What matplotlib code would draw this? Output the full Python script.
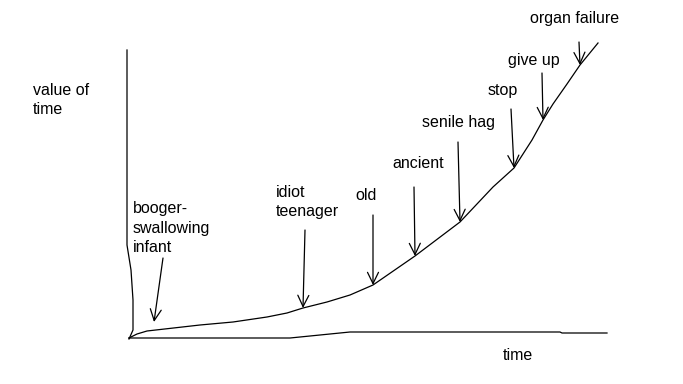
import matplotlib.pyplot as plt

plt.rcParams['font.family'] = ['Liberation Sans', 'DejaVu Sans']

# sketch coordinates: origin at the corner of the drawn axes, y up
curve_t = [1, 9, 19, 72, 105, 139, 159, 175, 199, 222, 245, 287, 332, 365, 386, 404, 415, 425, 439, 452, 470]
curve_v = [0, 4, 7, 13, 16, 21, 25, 30, 36, 43, 53, 82, 116, 151, 170, 198, 218, 234, 254, 273, 295]

xaxis_t = [1, 162, 222, 432, 434, 479]
xaxis_v = [0, 0, 6, 6, 5, 5]

yaxis_t = [-1, -1, 3, 5, 5, 1]
yaxis_v = [288, 93, 68, 38, 8, -1]

labels = ['booger-\nswallowing\ninfant', 'idiot\nteenager', 'old', 'ancient',
          'senile hag', 'stop', 'give up', 'organ failure']
label_t = [5, 148, 227, 264, 294, 360, 380, 402]
label_v = [110, 136, 143, 175, 215, 248, 278, 319]
arrow_from_t = [35, 177, 245, 286, 330, 383, 414, 451]
arrow_from_v = [80, 108, 123, 151, 196, 229, 265, 296]
arrow_to_t = [26, 175, 245, 287, 332, 386, 415, 452]
arrow_to_v = [16, 30, 53, 82, 116, 170, 218, 273]

fig = plt.figure(figsize=(6.83, 3.84), dpi=100)
ax = fig.add_axes([0, 0, 1, 1])
ax.set_xlim(-128, 555)
ax.set_ylim(-46, 338)
ax.axis('off')

ax.plot(curve_t, curve_v, color='black', lw=0.9)
ax.plot(xaxis_t, xaxis_v, color='black', lw=0.9)
ax.plot(yaxis_t, yaxis_v, color='black', lw=0.9)

for lab, lt, lv, ft, fv, tt, tv in zip(labels, label_t, label_v, arrow_from_t,
                                       arrow_from_v, arrow_to_t, arrow_to_v):
    ax.text(lt, lv, lab, fontsize=11.5, ha='left', va='center', linespacing=1.4)
    ax.annotate('', xy=(tt, tv), xytext=(ft, fv),
                arrowprops=dict(arrowstyle='->,head_length=0.45,head_width=0.22',
                                mutation_scale=18, lw=0.9, color='black',
                                shrinkA=0, shrinkB=0))

ax.text(-95, 238, 'value of\ntime', fontsize=11.5, ha='left', va='center', linespacing=1.4)
ax.text(375, -18, 'time', fontsize=11.5, ha='left', va='center')

plt.savefig('out.png', dpi=100)
